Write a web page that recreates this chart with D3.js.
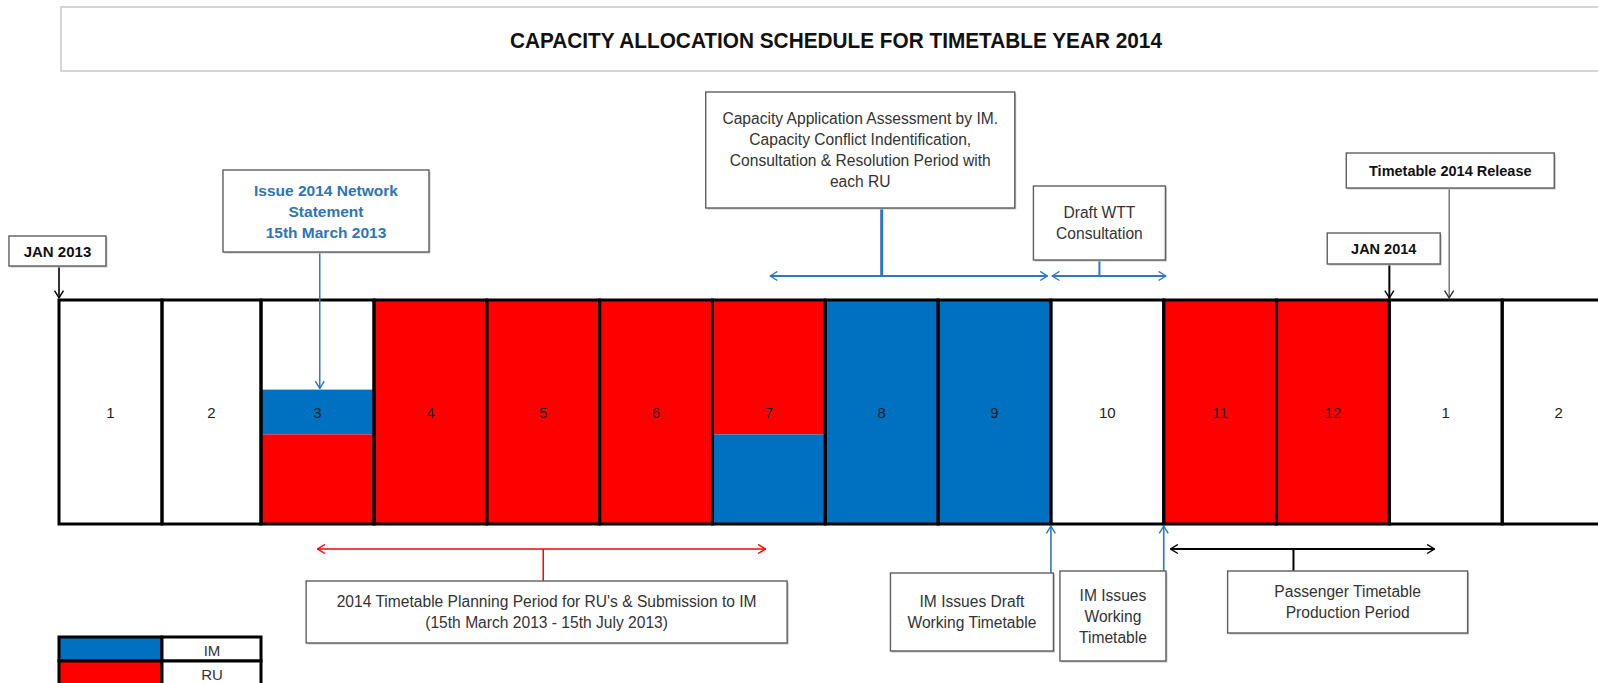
<!DOCTYPE html>
<html>
<head>
<meta charset="utf-8">
<script src="https://cdn.jsdelivr.net/npm/d3@7"></script>
<style>
  body { margin: 0; background: #fff; }
  svg { display: block; font-family: 'Liberation Sans', Arial, sans-serif; }
</style>
</head>
<body>
<div id="chart"></div>
<script>
// month columns of the timeline, Jan 2013 - Feb 2014
var monthLabels = ["1", "2", "3", "4", "5", "6", "7", "8", "9", "10", "11", "12", "1", "2"];

// who holds each part of a month column: [month index, owner, top share, bottom share]
var allocation = [
  [2, "IM", 0.4, 0.6], [2, "RU", 0.6, 1],
  [3, "RU", 0, 1], [4, "RU", 0, 1], [5, "RU", 0, 1],
  [6, "RU", 0, 0.6], [6, "IM", 0.6, 1],
  [7, "IM", 0, 1], [8, "IM", 0, 1],
  [10, "RU", 0, 1], [11, "RU", 0, 1]
];
var owners = ["IM", "RU"];

// single dates, in months counted from 1 Jan 2013
var milestoneIds = ["jan13", "network", "jan14", "release", "imDraft", "imWtt"];
var milestoneAt = [0, 2.52, 12, 12.53, 9, 10];

// periods, in months from 1 Jan 2013 (start, end, where the label hooks on)
var periodIds = ["capacity", "draftWtt", "planning", "passenger"];
var periodStart = [6.51, 9.01, 2.5, 10.06];
var periodEnd = [8.97, 10.02, 6.47, 12.4];
var periodStem = [7.5, 9.43, 4.5, 11.15];

// callout texts
var calloutIds = ["jan13", "network", "capacity", "draftWtt", "release", "jan14", "planning", "imDraft", "imWtt", "passenger"];
var calloutLines = [
  ["JAN 2013"],
  ["Issue 2014 Network", "Statement", "15th March 2013"],
  ["Capacity Application Assessment by IM.", "Capacity Conflict Indentification,", "Consultation & Resolution Period with", "each RU"],
  ["Draft WTT", "Consultation"],
  ["Timetable 2014 Release"],
  ["JAN 2014"],
  ["2014 Timetable Planning Period for RU's & Submission to IM", "(15th March 2013 - 15th July 2013)"],
  ["IM Issues Draft", "Working Timetable"],
  ["IM Issues", "Working", "Timetable"],
  ["Passenger Timetable", "Production Period"]
];

var titleText = "CAPACITY ALLOCATION SCHEDULE FOR TIMETABLE YEAR 2014";

// ---------- layout ----------
var svgWidth = 1598, svgHeight = 683;
var blue = "#0070C0", red = "#FF0000", lineBlue = "#2E78C2";

var svg = d3.select("#chart").append("svg")
  .attr("width", svgWidth)
  .attr("height", svgHeight);

// month position -> pixels (first columns are narrower than the rest)
var x = d3.scaleLinear()
  .domain([0, 1, 2, 3, 14])
  .range([59, 162, 261, 374, 1615]);

// share of a column -> pixels
var y = d3.scaleLinear().domain([0, 1]).range([300, 524]);

var color = d3.scaleOrdinal().domain(owners).range([blue, red]);

// arrow heads
var defs = svg.append("defs");
[["black", "#000"], ["grey", "#333"], ["blue", lineBlue], ["red", red]].forEach(function(m) {
  defs.append("marker")
    .attr("id", "arrow-" + m[0])
    .attr("viewBox", "0 0 10 12")
    .attr("refX", 9.2)
    .attr("refY", 6)
    .attr("markerWidth", 9)
    .attr("markerHeight", 11)
    .attr("markerUnits", "userSpaceOnUse")
    .attr("orient", "auto-start-reverse")
    .append("path")
    .attr("d", "M1,1 L9,6 L1,11")
    .attr("fill", "none")
    .attr("stroke", m[1])
    .attr("stroke-width", 1.6);
});

// title box
svg.append("rect")
  .attr("x", 61).attr("y", 7)
  .attr("width", 1580).attr("height", 64)
  .attr("fill", "#fff")
  .attr("stroke", "#c8c8c8")
  .attr("stroke-width", 1.5);

svg.append("text")
  .attr("x", 836).attr("y", 40)
  .attr("text-anchor", "middle")
  .attr("dominant-baseline", "central")
  .attr("font-size", 22)
  .attr("font-weight", "bold")
  .attr("textLength", 652)
  .attr("lengthAdjust", "spacingAndGlyphs")
  .attr("fill", "#111")
  .text(titleText);

// ---------- timeline row ----------
var row = svg.append("g");

row.selectAll("rect.fill")
  .data(allocation)
  .enter()
  .append("rect")
  .attr("class", "fill")
  .attr("x", function(d) { return x(d[0]); })
  .attr("y", function(d) { return y(d[2]); })
  .attr("width", function(d) { return x(d[0] + 1) - x(d[0]); })
  .attr("height", function(d) { return y(d[3]) - y(d[2]); })
  .attr("fill", function(d) { return color(d[1]); });

row.selectAll("rect.cell")
  .data(monthLabels)
  .enter()
  .append("rect")
  .attr("class", "cell")
  .attr("x", function(d, i) { return x(i); })
  .attr("y", y(0))
  .attr("width", function(d, i) { return x(i + 1) - x(i); })
  .attr("height", y(1) - y(0))
  .attr("fill", "none")
  .attr("stroke", "#000")
  .attr("stroke-width", 3);

row.selectAll("text.month")
  .data(monthLabels)
  .enter()
  .append("text")
  .attr("class", "month")
  .attr("x", function(d, i) { return (x(i) + x(i + 1)) / 2; })
  .attr("y", y(0.5))
  .attr("text-anchor", "middle")
  .attr("dominant-baseline", "central")
  .attr("font-size", 15)
  .attr("fill", "#222")
  .text(function(d) { return d; });

// ---------- callout boxes ----------
// cx in months, width px, top / bottom px, text style
var boxLayout = {
  jan13:     { m: -0.015, w: 97,  y0: 236, y1: 266, size: 15,   bold: true, fill: "#111" },
  network:   { m: 2.575,  w: 206, y0: 170, y1: 252, size: 15.5, bold: true, fill: "#2E75B6" },
  capacity:  { m: 7.31,   w: 309, y0: 92,  y1: 208, size: 15.6, fill: "#333" },
  draftWtt:  { m: 9.43,   w: 132, y0: 186, y1: 260, size: 15.6, fill: "#333" },
  release:   { m: 12.54,  w: 208, y0: 153, y1: 188, size: 14.5, bold: true, fill: "#111" },
  jan14:     { m: 11.95,  w: 113, y0: 233, y1: 264, size: 14.5, bold: true, fill: "#111" },
  planning:  { m: 4.53,   w: 481, y0: 581, y1: 643, size: 15.6, fill: "#333" },
  imDraft:   { m: 8.3,    w: 163, y0: 573, y1: 651, size: 15.6, fill: "#333" },
  imWtt:     { m: 9.55,   w: 106, y0: 571, y1: 661, size: 15.6, fill: "#333" },
  passenger: { m: 11.63,  w: 240, y0: 571, y1: 633, size: 15.6, fill: "#333" }
};
var lineHeight = 21;

// ---------- milestone arrows ----------
var milestoneLayout = {
  jan13:   { y0: 266, y1: 298, stroke: "#000", width: 1.6, marker: "black" },
  network: { y0: 252, y1: y(0.4) - 1, stroke: lineBlue, width: 1.5, marker: "blue" },
  jan14:   { y0: 264, y1: 298, stroke: "#000", width: 2, marker: "black" },
  release: { y0: 188, y1: 298, stroke: "#333", width: 1, marker: "grey" },
  imDraft: { y0: 573, y1: 526, stroke: lineBlue, width: 1.6, marker: "blue" },
  imWtt:   { y0: 571, y1: 526, stroke: lineBlue, width: 1.6, marker: "blue" }
};

svg.append("g").selectAll("line")
  .data(milestoneIds)
  .enter()
  .append("line")
  .attr("x1", function(d, i) { return x(milestoneAt[i]); })
  .attr("x2", function(d, i) { return x(milestoneAt[i]); })
  .attr("y1", function(d) { return milestoneLayout[d].y0; })
  .attr("y2", function(d) { return milestoneLayout[d].y1; })
  .attr("stroke", function(d) { return milestoneLayout[d].stroke; })
  .attr("stroke-width", function(d) { return milestoneLayout[d].width; })
  .attr("marker-end", function(d) { return "url(#arrow-" + milestoneLayout[d].marker + ")"; });

// ---------- period arrows ----------
var periodLayout = {
  capacity:  { y: 276, stem: 208, stroke: lineBlue, width: 2, stemWidth: 3, marker: "blue" },
  draftWtt:  { y: 276, stem: 260, stroke: lineBlue, width: 2, stemWidth: 2, marker: "blue" },
  planning:  { y: 549, stem: 581, stroke: red, width: 1.5, stemWidth: 1.5, marker: "red" },
  passenger: { y: 549, stem: 571, stroke: "#000", width: 2, stemWidth: 2, marker: "black" }
};

var periods = svg.append("g").selectAll("g")
  .data(periodIds)
  .enter()
  .append("g");

periods.append("line")
  .attr("x1", function(d, i) { return x(periodStem[i]); })
  .attr("x2", function(d, i) { return x(periodStem[i]); })
  .attr("y1", function(d) { return periodLayout[d].y; })
  .attr("y2", function(d) { return periodLayout[d].stem; })
  .attr("stroke", function(d) { return periodLayout[d].stroke; })
  .attr("stroke-width", function(d) { return periodLayout[d].stemWidth; });

periods.append("line")
  .attr("x1", function(d, i) { return x(periodStart[i]); })
  .attr("x2", function(d, i) { return x(periodEnd[i]); })
  .attr("y1", function(d) { return periodLayout[d].y; })
  .attr("y2", function(d) { return periodLayout[d].y; })
  .attr("stroke", function(d) { return periodLayout[d].stroke; })
  .attr("stroke-width", function(d) { return periodLayout[d].width; })
  .attr("marker-start", function(d) { return "url(#arrow-" + periodLayout[d].marker + ")"; })
  .attr("marker-end", function(d) { return "url(#arrow-" + periodLayout[d].marker + ")"; });

// boxes drawn after the lines so they sit on top
var boxes = svg.append("g").selectAll("g")
  .data(calloutIds)
  .enter()
  .append("g")
  .attr("transform", function(d) {
    var b = boxLayout[d];
    return "translate(" + (x(b.m) - b.w / 2) + "," + b.y0 + ")";
  });

boxes.append("rect")
  .attr("x", 1.5).attr("y", 1.5)
  .attr("width", function(d) { return boxLayout[d].w; })
  .attr("height", function(d) { return boxLayout[d].y1 - boxLayout[d].y0; })
  .attr("fill", "#c4c4c4");

boxes.append("rect")
  .attr("width", function(d) { return boxLayout[d].w; })
  .attr("height", function(d) { return boxLayout[d].y1 - boxLayout[d].y0; })
  .attr("fill", "#fff")
  .attr("stroke", "#5f5f5f")
  .attr("stroke-width", 1.4);

boxes.each(function(d, i) {
  var b = boxLayout[d];
  var lines = calloutLines[i];
  var h = b.y1 - b.y0;
  var first = h / 2 - (lines.length - 1) * lineHeight / 2;
  d3.select(this).selectAll("text")
    .data(lines)
    .enter()
    .append("text")
    .attr("x", b.w / 2)
    .attr("y", function(t, j) { return first + j * lineHeight; })
    .attr("text-anchor", "middle")
    .attr("dominant-baseline", "central")
    .attr("font-size", b.size)
    .attr("font-weight", b.bold ? "bold" : "normal")
    .attr("fill", b.fill)
    .text(function(t) { return t; });
});

// ---------- legend ----------
var legendY = d3.scaleBand().domain(owners).range([637, 685]);
var legend = svg.append("g").selectAll("g")
  .data(owners)
  .enter()
  .append("g")
  .attr("transform", function(d) { return "translate(59," + legendY(d) + ")"; });

legend.append("rect")
  .attr("width", 103)
  .attr("height", legendY.bandwidth())
  .attr("fill", function(d) { return color(d); })
  .attr("stroke", "#000")
  .attr("stroke-width", 3);

legend.append("rect")
  .attr("x", 103)
  .attr("width", 99)
  .attr("height", legendY.bandwidth())
  .attr("fill", "#fff")
  .attr("stroke", "#000")
  .attr("stroke-width", 3);

legend.append("text")
  .attr("x", 153)
  .attr("y", legendY.bandwidth() / 2 + 1)
  .attr("text-anchor", "middle")
  .attr("dominant-baseline", "central")
  .attr("font-size", 15)
  .attr("fill", "#333")
  .text(function(d) { return d; });
</script>
</body>
</html>
